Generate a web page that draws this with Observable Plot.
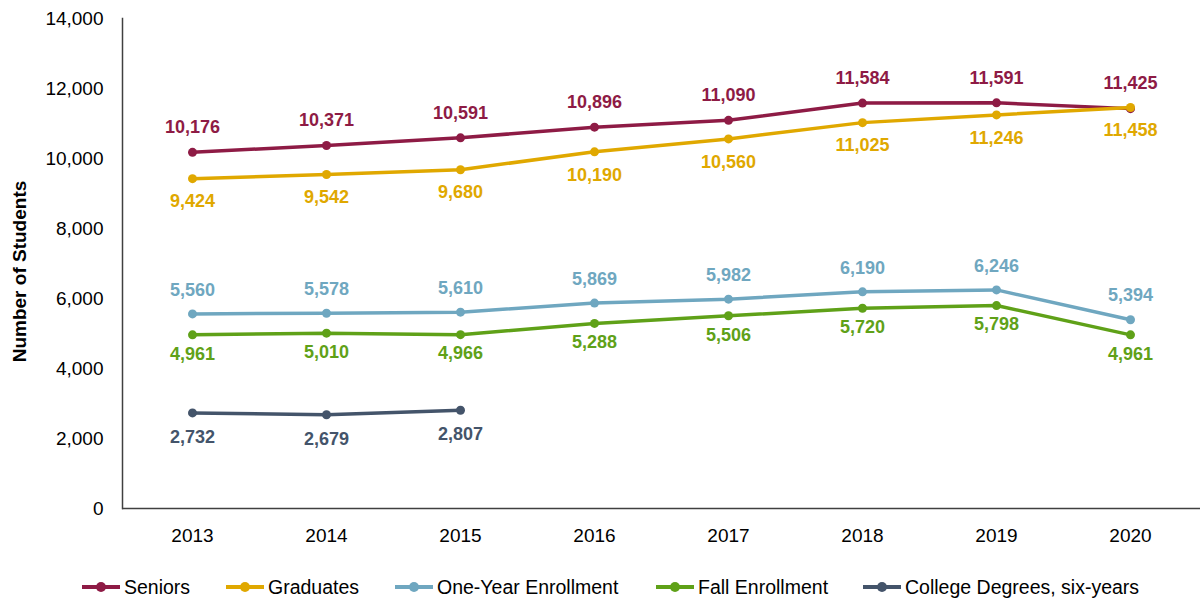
<!DOCTYPE html>
<html>
<head>
<meta charset="utf-8">
<script src="https://cdn.jsdelivr.net/npm/d3@7"></script>
<script src="https://cdn.jsdelivr.net/npm/@observablehq/plot@0.6"></script>
<style>
  html, body { margin: 0; padding: 0; background: #fff; }
  body { width: 1203px; height: 599px; overflow: hidden; font-family: "Liberation Sans", Arial, sans-serif; }
  #legend { position: relative; height: 44px; }
  .item { position: absolute; top: 20px; display: flex; align-items: center; font-size: 19.5px; color: #000; height: 24px; }
  .item svg { margin-right: 3px; }
</style>
</head>
<body>
<div id="chart"></div>
<div id="legend"></div>
<script>
const years = [2013, 2014, 2015, 2016, 2017, 2018, 2019, 2020];
const seniors = [10176, 10371, 10591, 10896, 11090, 11584, 11591, 11425];
const graduates = [9424, 9542, 9680, 10190, 10560, 11025, 11246, 11458];
const oneYear = [5560, 5578, 5610, 5869, 5982, 6190, 6246, 5394];
const fall = [4961, 5010, 4966, 5288, 5506, 5720, 5798, 4961];
const college = [2732, 2679, 2807];
const seriesNames = ["Seniors", "Graduates", "One-Year Enrollment", "Fall Enrollment", "College Degrees, six-years"];
const seriesColors = ["#8E1B45", "#E0A800", "#6FA7C0", "#5FA118", "#44546A"];
const yTicks = [0, 2000, 4000, 6000, 8000, 10000, 12000, 14000];

const seriesValues = [seniors, graduates, oneYear, fall, college];
const labelOffset = [-25, 23, -24, 19, 24];
const drawOrder = [4, 3, 2, 0, 1];

const fmt = d3.format(",");
const marks = [];
for (const i of drawOrder) {
  const rows = seriesValues[i].map((v, k) => ({year: years[k], value: v, series: seriesNames[i]}));
  marks.push(Plot.line(rows, {x: "year", y: "value", stroke: seriesColors[i], strokeWidth: 3.5}));
  marks.push(Plot.dot(rows, {x: "year", y: "value", fill: seriesColors[i], r: 4.5}));
}
for (const i of drawOrder) {
  const rows = seriesValues[i].map((v, k) => ({year: years[k], value: v}));
  marks.push(Plot.text(rows, {x: "year", y: "value", text: d => fmt(d.value), dy: labelOffset[i], fill: seriesColors[i], fontSize: 18, fontWeight: "bold"}));
}

const chart = Plot.plot({
  width: 1203,
  height: 555,
  marginLeft: 122,
  marginRight: 3,
  marginTop: 18,
  marginBottom: 47,
  style: {fontFamily: "Liberation Sans, Arial, sans-serif", fontSize: "19px", color: "#000", background: "#fff"},
  x: {type: "point", domain: years, padding: 0.5, label: null},
  y: {domain: [0, 14000], label: null},
  marks: [
    Plot.axisY({ticks: yTicks, tickSize: 0, tickPadding: 19, tickFormat: d => fmt(d), label: null, fontSize: 19}),
    Plot.axisX({tickSize: 0, tickPadding: 20, tickFormat: d => String(d), label: null, fontSize: 19}),
    Plot.frame({anchor: "left", stroke: "#404040", strokeWidth: 1.5}),
    Plot.ruleY([0], {stroke: "#404040", strokeWidth: 1.5}),
    ...marks,
    Plot.text(["Number of Students"], {frameAnchor: "left", textAnchor: "middle", dx: -103, dy: 8, rotate: -90, fontWeight: "bold", fontSize: 19, fill: "#000"})
  ]
});
document.getElementById("chart").appendChild(chart);

const legend = document.getElementById("legend");
const legendLeft = [81, 225, 394, 655, 862];
seriesNames.forEach((name, i) => {
  const item = document.createElement("div");
  item.className = "item";
  item.style.left = legendLeft[i] + "px";
  item.innerHTML = `<svg width="40" height="12"><line x1="1" y1="6" x2="39" y2="6" stroke="${seriesColors[i]}" stroke-width="4"/><circle cx="20" cy="6" r="5" fill="${seriesColors[i]}"/></svg><span>${name}</span>`;
  legend.appendChild(item);
});
</script>
</body>
</html>
